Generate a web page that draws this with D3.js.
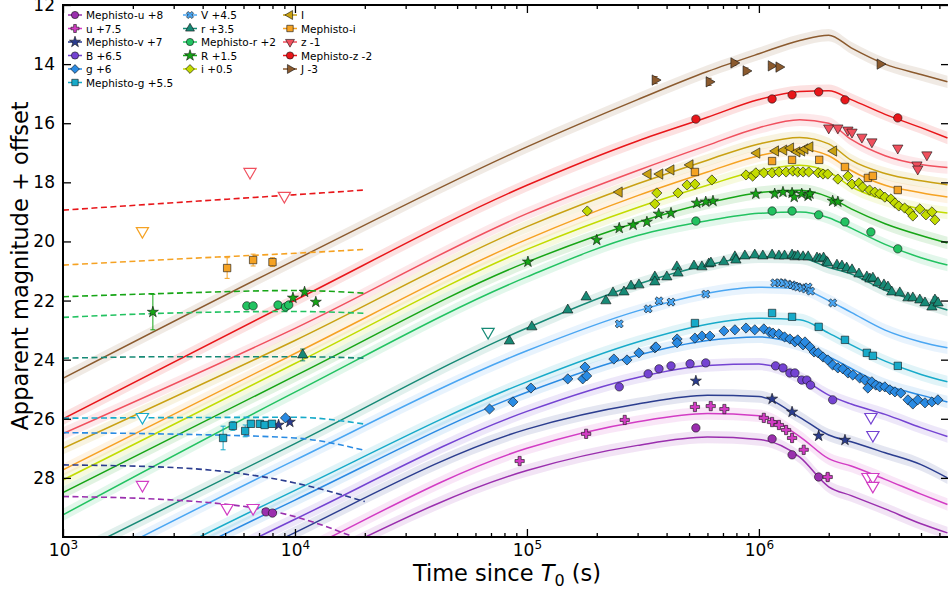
<!DOCTYPE html>
<html>
<head>
<meta charset="utf-8">
<script src="https://cdn.jsdelivr.net/npm/d3@7"></script>
<style>
body { margin: 0; background: #fff; }
svg { display: block; font-family: "DejaVu Sans", sans-serif; }
</style>
</head>
<body>
<svg id="chart" width="948" height="592"></svg>
<script>
// model curves, sampled at these times (s)
const modelTimes = [1e3, 1e4, 1e5, 3e5, 6e5, 1e6, 1.5e6, 2e6, 2.5e6, 3.5e6, 5e6, 6.5e6];

const modelMephistoU = [35.2, 31.15, 27.75, 26.9, 26.62, 26.7, 27.3, 28.3, 28.6, 29.05, 29.55, 29.86];
const model_u = [34.6, 30.6, 27.0, 26.1, 25.82, 25.9, 26.6, 27.35, 27.6, 28.05, 28.55, 28.9];
const modelMephistoV = [34.0, 29.85, 26.35, 25.5, 25.2, 25.25, 25.95, 26.55, 26.78, 27.15, 27.55, 28.0];
const model_B = [33.3, 29.4, 25.75, 24.6, 24.2, 24.15, 24.6, 25.2, 25.5, 25.85, 26.3, 26.6];
const model_g = [32.6, 28.75, 25.1, 23.85, 23.35, 23.23, 23.5, 23.9, 24.3, 24.85, 25.2, 25.43];
const modelMephistoG = [32.3, 28.42, 24.75, 23.4, 22.8, 22.6, 22.65, 23.1, 23.5, 24.05, 24.5, 24.75];
const model_V = [31.35, 27.4, 23.7, 22.35, 21.75, 21.55, 21.6, 22.0, 22.4, 23.0, 23.4, 23.6];
const model_r = [30.75, 26.84, 22.93, 21.45, 20.8, 20.52, 20.55, 20.88, 21.1, 21.65, 22.05, 22.32];
const modelMephistoR = [29.25, 25.1, 21.2, 19.8, 19.3, 19.05, 19.0, 19.2, 19.55, 20.1, 20.55, 20.8];
const model_R = [28.5, 24.55, 20.7, 19.35, 18.7, 18.35, 18.27, 18.5, 18.9, 19.4, 19.8, 20.05];
const model_i = [28.07, 24.13, 20.27, 18.85, 18.1, 17.6, 17.42, 17.65, 18.15, 18.6, 18.9, 19.04];
const model_I = [27.0, 23.35, 19.5, 18.05, 17.25, 16.7, 16.48, 16.7, 17.25, 17.7, 17.95, 18.08];
const modelMephistoI = [27.73, 23.79, 19.93, 18.45, 17.65, 17.1, 16.88, 17.1, 17.6, 18.1, 18.35, 18.5];
const model_z = [26.5, 22.94, 19.06, 17.6, 16.75, 16.15, 15.88, 16.0, 16.55, 17.1, 17.4, 17.5];
const modelMephistoZ = [26.0, 21.99, 18.1, 16.6, 15.8, 15.2, 14.93, 14.9, 15.2, 15.7, 16.15, 16.5];
const model_J = [24.63, 20.63, 16.8, 15.2, 14.25, 13.65, 13.2, 13.02, 13.45, 14.0, 14.35, 14.6];

// early (dashed) component
const earlyTimes = [1e3, 3e3, 1e4, 2e4];
const earlyMephistoU = [28.63, 28.75, 29.31, 30.15];
const earlyMephistoV = [27.56, 27.65, 28.17, 28.8];
const early_g = [26.47, 26.52, 26.65, 27.07];
const earlyMephistoG = [25.98, 25.96, 25.95, 26.18];
const early_r = [23.95, 23.9, 23.9, 23.95];
const earlyMephistoR = [22.57, 22.42, 22.37, 22.43];
const early_R = [21.87, 21.75, 21.66, 21.75];
const earlyMephistoI = [20.8, 20.6, 20.4, 20.27];
const earlyMephistoZ = [18.94, 18.69, 18.42, 18.26];

// observations [t, mag, err]
const obsMephistoU = [[7.5e3, 29.15], [8.0e3, 29.19], [5.35e5, 26.31], [1.14e6, 26.68], [1.39e6, 27.22], [1.81e6, 27.97]];
const obs_u = [[9.3e4, 27.43], [1.8e5, 26.51], [2.64e5, 26.04], [5.3e5, 25.6], [6.2e5, 25.57], [7.1e5, 25.67],
  [1.05e6, 25.97], [1.14e6, 26.11], [1.22e6, 26.21], [1.31e6, 26.38], [1.39e6, 26.65], [1.56e6, 27.05], [1.98e6, 27.97, 0.1]];
const lim_u = [[2.2e3, 28.24], [5.1e3, 29.02], [6.6e3, 29.02], [2.95e6, 27.97], [3.1e6, 27.97], [3.1e6, 28.27]];
const obsMephistoV = [[8.5e3, 26.21], [9.5e3, 26.11], [5.35e5, 24.72], [1.14e6, 25.33], [1.39e6, 25.77], [1.81e6, 26.58], [2.35e6, 26.72]];
const obs_B = [[2.5e5, 24.92], [3.33e5, 24.48], [3.71e5, 24.31], [4.18e5, 24.21], [5.05e5, 24.14], [5.9e5, 24.11],
  [1.18e6, 24.21], [1.27e6, 24.28], [1.36e6, 24.45], [1.43e6, 24.45], [1.53e6, 24.69], [1.61e6, 24.69], [1.67e6, 24.86], [2.08e6, 25.36]];
const lim_B = [[3.04e6, 25.94], [3.1e6, 26.55]];
const obs_g = [[9.1e3, 25.97], [6.9e4, 25.67], [8.7e4, 25.43], [1.04e5, 24.96], [1.5e5, 24.65], [1.74e5, 24.65], [1.81e5, 24.55],
  [1.78e5, 24.25], [2.37e5, 23.98], [2.7e5, 24.01], [3.04e5, 23.77], [3.56e5, 23.6], [3.6e5, 23.57], [4.44e5, 23.3],
  [4.44e5, 23.43], [5.3e5, 23.27], [5.68e5, 23.2], [6.15e5, 23.2], [7.07e5, 23.03], [7.88e5, 22.99], [8.8e5, 22.93],
  [9.6e5, 22.99], [1.05e6, 22.96], [1.11e6, 23.06], [1.15e6, 23.1], [1.22e6, 23.13], [1.29e6, 23.23], [1.36e6, 23.3],
  [1.43e6, 23.4], [1.47e6, 23.33], [1.55e6, 23.5], [1.58e6, 23.4], [1.66e6, 23.57], [1.73e6, 23.74], [1.8e6, 23.77],
  [1.89e6, 23.91], [1.98e6, 24.01], [2.08e6, 24.18], [2.19e6, 24.28], [2.3e6, 24.31], [2.42e6, 24.45], [2.54e6, 24.52],
  [2.72e6, 24.62], [2.86e6, 24.69], [2.95e6, 24.96], [3.07e6, 24.75], [3.19e6, 24.86], [3.32e6, 24.92], [3.49e6, 24.92],
  [3.67e6, 25.02], [3.86e6, 25.09], [4.09e6, 25.13], [4.39e6, 25.36], [4.61e6, 25.5], [4.84e6, 25.36], [5.2e6, 25.46],
  [5.57e6, 25.43], [5.91e6, 25.36]];
const obsMephistoG = [[4.9e3, 26.65, 0.4], [5.4e3, 26.24, 0.15], [6.1e3, 26.41, 0.2], [6.46e3, 26.17, 0.1], [7.06e3, 26.17, 0.1],
  [7.4e3, 26.21, 0.1], [7.96e3, 26.17, 0.1], [5.3e5, 22.76], [1.14e6, 22.42], [1.39e6, 22.55], [1.81e6, 22.89],
  [2.35e6, 23.33], [2.92e6, 23.77], [3.1e6, 23.87], [3.97e6, 24.21]];
const limMephistoG = [[2.2e3, 25.94]];
const obs_V = [[2.5e5, 22.79], [3.33e5, 22.28], [3.71e5, 22.01], [4.18e5, 22.05], [5.9e5, 21.78], [1.17e6, 21.4], [1.23e6, 21.4],
  [1.27e6, 21.4], [1.33e6, 21.44], [1.39e6, 21.47], [1.43e6, 21.51], [1.47e6, 21.54], [1.53e6, 21.57], [1.59e6, 21.61],
  [1.63e6, 21.54], [1.67e6, 21.68], [2.08e6, 22.08]];
const obs_r = [[1.08e4, 23.84, 0.2], [8.4e4, 23.37], [1.05e5, 22.89], [1.5e5, 22.32], [1.8e5, 21.88], [2.19e5, 22.01], [2.35e5, 21.74],
  [2.62e5, 21.71], [2.81e5, 21.51], [3.04e5, 21.47], [3.56e5, 21.2], [3.56e5, 21.37], [4.01e5, 21.2], [4.43e5, 20.86],
  [4.48e5, 21.07], [5.25e5, 20.83], [5.68e5, 20.86], [6.08e5, 20.76], [6.21e5, 20.73], [7.06e5, 20.69], [7.88e5, 20.52],
  [7.96e5, 20.63], [8.7e5, 20.49], [9.6e5, 20.46], [1.04e6, 20.49], [1.14e6, 20.46], [1.22e6, 20.49], [1.29e6, 20.49],
  [1.39e6, 20.46], [1.43e6, 20.52], [1.47e6, 20.49], [1.55e6, 20.52], [1.63e6, 20.52], [1.78e6, 20.56], [1.83e6, 20.59],
  [1.9e6, 20.56], [1.96e6, 20.69], [1.98e6, 20.73], [2.17e6, 20.8], [2.28e6, 20.83], [2.39e6, 20.9], [2.52e6, 20.96],
  [2.7e6, 21.1], [2.92e6, 21.2], [3.01e6, 21.27], [3.1e6, 21.24], [3.26e6, 21.4], [3.46e6, 21.47], [3.6e6, 21.54],
  [3.74e6, 21.71], [4.05e6, 21.74], [4.39e6, 21.91], [4.61e6, 21.91], [4.94e6, 21.98], [5.2e6, 22.08], [5.57e6, 22.22],
  [5.74e6, 21.98, 0.1], [5.92e6, 22.08]];
const lim_r = [[6.8e4, 23.06]];
const obsMephistoR = [[6.2e3, 22.18], [6.6e3, 22.18], [8.45e3, 22.15], [9.1e3, 22.22], [9.4e3, 22.15], [5.35e5, 19.31],
  [1.14e6, 18.97], [1.39e6, 18.97], [1.81e6, 19.1], [2.35e6, 19.34], [3.04e6, 19.68], [3.97e6, 20.25]];
const obs_R = [[2.44e3, 22.39, 0.6], [9.8e3, 21.91], [1.1e4, 21.71], [1.23e4, 22.05], [1.01e5, 20.69], [2.0e5, 19.95],
  [2.5e5, 19.55], [2.87e5, 19.44], [3.29e5, 19.34], [3.7e5, 19.07], [4.18e5, 19.04], [5.4e5, 18.7], [5.9e5, 18.66],
  [6.34e5, 18.63], [9.7e5, 18.39], [1.17e6, 18.39], [1.27e6, 18.33], [1.39e6, 18.36], [1.42e6, 18.5], [1.53e6, 18.39],
  [1.63e6, 18.46], [1.66e6, 18.39], [2.08e6, 18.63], [2.19e6, 18.66]];
const obs_i = [[1.82e5, 18.97], [3.63e5, 18.36], [3.56e5, 18.73], [4.48e5, 18.36], [4.9e5, 18.09], [5.3e5, 18.06], [6.27e5, 17.92],
  [8.8e5, 17.75], [9.4e5, 17.79], [9.7e5, 17.68], [1.05e6, 17.68], [1.14e6, 17.68], [1.22e6, 17.65], [1.31e6, 17.65],
  [1.4e6, 17.62], [1.47e6, 17.65], [1.55e6, 17.65], [1.64e6, 17.65], [1.8e6, 17.68], [1.89e6, 17.72], [1.98e6, 17.72],
  [2.19e6, 17.89], [2.42e6, 17.79], [2.52e6, 18.06], [2.7e6, 18.02], [2.8e6, 18.16], [3.0e6, 18.26], [3.16e6, 18.33],
  [3.32e6, 18.39], [3.49e6, 18.5], [3.71e6, 18.56], [3.86e6, 18.7], [4.01e6, 18.8], [4.25e6, 18.87], [4.48e6, 19.0],
  [4.61e6, 19.14], [4.94e6, 18.9], [5.25e6, 19.1], [5.57e6, 19.0], [5.74e6, 19.27]];
const obs_I = [[2.5e5, 18.33], [3.33e5, 17.72], [3.74e5, 17.72], [4.18e5, 17.58], [5.05e5, 17.41], [9.8e5, 17.01], [1.18e6, 16.94],
  [1.28e6, 16.91], [1.37e6, 16.84], [1.46e6, 16.97], [1.53e6, 16.94], [1.58e6, 16.87], [1.66e6, 16.8], [2.1e6, 16.94]];
const obsMephistoI = [[5.1e3, 20.9, 0.35], [6.6e3, 20.63, 0.2], [8.0e3, 20.7, 0.15], [5.3e5, 17.65], [1.14e6, 17.28], [1.39e6, 17.24],
  [1.82e6, 17.24], [2.35e6, 17.48], [2.95e6, 17.85], [3.1e6, 17.78], [3.97e6, 18.26]];
const limMephistoI = [[2.2e3, 19.65]];
const obs_z = [[2.0e6, 16.16], [2.19e6, 16.16], [2.42e6, 16.23], [2.52e6, 16.3], [2.78e6, 16.47], [3.07e6, 16.63], [3.97e6, 16.84],
  [4.8e6, 17.41], [4.84e6, 17.55], [5.3e6, 17.07]];
const lim_z = [[6.4e3, 17.65], [9.0e3, 18.46]];
const obsMephistoZ = [[5.35e5, 15.86], [1.14e6, 15.18], [1.39e6, 15.04], [1.81e6, 14.94], [2.35e6, 15.21], [3.97e6, 15.82]];
const obs_J = [[3.57e5, 14.54, 0.12], [6.1e5, 14.6, 0.12], [7.8e5, 13.96, 0.08], [8.8e5, 14.23, 0.1], [1.13e6, 14.06, 0.05],
  [1.22e6, 14.1, 0.05], [3.33e6, 14.0, 0.05]];

const yTicks = [12, 14, 16, 18, 20, 22, 24, 26, 28];
const xTicks = [1e3, 1e4, 1e5, 1e6];

const bands = [
  {label: "Mephisto-u +8", color: "#9a2fae", marker: "circle", model: modelMephistoU, early: earlyMephistoU, obs: obsMephistoU},
  {label: "u +7.5", color: "#d23cc4", marker: "plus", model: model_u, obs: obs_u, lim: lim_u},
  {label: "Mephisto-v +7", color: "#2b3d8f", marker: "star", model: modelMephistoV, early: earlyMephistoV, obs: obsMephistoV},
  {label: "B +6.5", color: "#7443d2", marker: "circle", model: model_B, obs: obs_B, lim: lim_B},
  {label: "g +6", color: "#2a8be3", marker: "diamond", model: model_g, early: early_g, obs: obs_g},
  {label: "Mephisto-g +5.5", color: "#17aac9", marker: "square", model: modelMephistoG, early: earlyMephistoG, obs: obsMephistoG, lim: limMephistoG},
  {label: "V +4.5", color: "#4aa6f2", marker: "x", model: model_V, obs: obs_V},
  {label: "r +3.5", color: "#178a76", marker: "triUp", model: model_r, early: early_r, obs: obs_r, lim: lim_r},
  {label: "Mephisto-r +2", color: "#22c261", marker: "circle", model: modelMephistoR, early: earlyMephistoR, obs: obsMephistoR},
  {label: "R +1.5", color: "#16a516", marker: "star", model: model_R, early: early_R, obs: obs_R},
  {label: "i +0.5", color: "#c3db00", marker: "diamond", model: model_i, obs: obs_i},
  {label: "I", color: "#c9a112", marker: "triLeft", model: model_I, obs: obs_I},
  {label: "Mephisto-i", color: "#f5a223", marker: "square", model: modelMephistoI, early: earlyMephistoI, obs: obsMephistoI, lim: limMephistoI},
  {label: "z -1", color: "#f0505e", marker: "triDown", model: model_z, obs: obs_z, lim: lim_z},
  {label: "Mephisto-z -2", color: "#e8161a", marker: "circle", model: modelMephistoZ, early: earlyMephistoZ, obs: obsMephistoZ},
  {label: "J -3", color: "#8b5a2e", marker: "triRight", model: model_J, obs: obs_J}
];

const symbols = {
  circle: {type: d3.symbolCircle, size: 55, rot: 0},
  plus: {type: d3.symbolCross, size: 48, rot: 0},
  star: {type: d3.symbolStar, size: 38, rot: 0},
  diamond: {type: d3.symbolSquare, size: 52, rot: 45},
  square: {type: d3.symbolSquare, size: 55, rot: 0},
  x: {type: d3.symbolCross, size: 42, rot: 45},
  triUp: {type: d3.symbolTriangle, size: 46, rot: 0},
  triDown: {type: d3.symbolTriangle, size: 46, rot: 180},
  triLeft: {type: d3.symbolTriangle, size: 46, rot: -90},
  triRight: {type: d3.symbolTriangle, size: 46, rot: 90}
};

const svg = d3.select("#chart");
const plotLeft = 63, plotTop = 5, plotRight = 949, plotBottom = 537;

const x = d3.scaleLog().domain([1e3, 6.6e6]).range([plotLeft, plotRight]);
const y = d3.scaleLinear().domain([12, 30]).range([plotTop, plotBottom]);

svg.append("defs").append("clipPath").attr("id", "plot")
  .append("rect").attr("x", plotLeft).attr("y", plotTop)
  .attr("width", plotRight - plotLeft).attr("height", plotBottom - plotTop);

const plot = svg.append("g").attr("clip-path", "url(#plot)");

const pairs = (times, mags) => times.map((t, i) => [t, mags[i]]);

const band = d3.area()
  .x(d => x(d[0]))
  .y0(d => y(d[1] - 0.21))
  .y1(d => y(d[1] + 0.21))
  .curve(d3.curveMonotoneX);
const line = d3.line()
  .x(d => x(d[0]))
  .y(d => y(d[1]))
  .curve(d3.curveMonotoneX);

bands.forEach(b => {
  plot.append("path")
    .attr("d", band(pairs(modelTimes, b.model)))
    .style("fill", b.color)
    .style("opacity", 0.13);
});
bands.forEach(b => {
  plot.append("path")
    .attr("d", line(pairs(modelTimes, b.model)))
    .style("fill", "none")
    .style("stroke", b.color)
    .style("stroke-width", 1.5);
});
bands.filter(b => b.early).forEach(b => {
  plot.append("path")
    .attr("d", line(pairs(earlyTimes, b.early)))
    .style("fill", "none")
    .style("stroke", b.color)
    .style("stroke-width", 1.6)
    .style("stroke-dasharray", "6,3.5");
});

const symbolPath = (name, scale) => d3.symbol().type(symbols[name].type).size(symbols[name].size * (scale || 1))();

bands.forEach(b => {
  const g = plot.append("g");
  const withErr = b.obs.filter(d => d[2]);
  g.selectAll("path.err")
    .data(withErr)
    .enter()
    .append("path")
    .attr("d", d => {
      const cx = x(d[0]), y0 = y(d[1] - d[2]), y1 = y(d[1] + d[2]);
      return `M${cx},${y0}V${y1}M${cx - 2.5},${y0}H${cx + 2.5}M${cx - 2.5},${y1}H${cx + 2.5}`;
    })
    .style("fill", "none")
    .style("stroke", b.color)
    .style("stroke-width", 1);

  g.selectAll("path.pt")
    .data(b.obs)
    .enter()
    .append("path")
    .attr("d", symbolPath(b.marker))
    .attr("transform", d => `translate(${x(d[0])},${y(d[1])}) rotate(${symbols[b.marker].rot})`)
    .style("fill", b.color)
    .style("stroke", "#111")
    .style("stroke-width", 0.6);

  if (b.lim) {
    g.selectAll("path.lim")
      .data(b.lim)
      .enter()
      .append("path")
      .attr("d", symbolPath("triDown", 1.4))
      .attr("transform", d => `translate(${x(d[0])},${y(d[1])}) rotate(180)`)
      .style("fill", "white")
      .style("stroke", b.color)
      .style("stroke-width", 1.2);
  }
});

// axes, ticks pointing inward on all four sides
const minorTicks = [];
[1e3, 1e4, 1e5, 1e6].forEach(dec => {
  for (let k = 2; k <= 9; k++) if (dec * k < 6.6e6) minorTicks.push(dec * k);
});

const styleAxis = (g) => {
  g.select(".domain").remove();
  g.selectAll(".tick line").style("stroke", "#000").style("stroke-width", 1.3);
  g.selectAll("text").attr("fill", "#000").attr("font-size", 17).attr("font-family", "DejaVu Sans");
};

svg.append("g").attr("transform", `translate(0,${plotBottom})`)
  .call(d3.axisBottom(x).tickValues(xTicks).tickSize(-8).tickSizeOuter(0).tickPadding(7))
  .call(styleAxis)
  .selectAll(".tick text").each(function (d) {
    const t = d3.select(this).text("");
    t.append("tspan").text("10");
    t.append("tspan").attr("dy", "-0.55em").attr("font-size", 12).text(Math.round(Math.log10(d)));
  });
svg.append("g").attr("transform", `translate(0,${plotBottom})`)
  .call(d3.axisBottom(x).tickValues(minorTicks).tickSize(-4).tickFormat(""))
  .call(styleAxis);
svg.append("g").attr("transform", `translate(0,${plotTop})`)
  .call(d3.axisTop(x).tickValues(xTicks).tickSize(-8).tickFormat(""))
  .call(styleAxis);
svg.append("g").attr("transform", `translate(0,${plotTop})`)
  .call(d3.axisTop(x).tickValues(minorTicks).tickSize(-4).tickFormat(""))
  .call(styleAxis);
svg.append("g").attr("transform", `translate(${plotLeft},0)`)
  .call(d3.axisLeft(y).tickValues(yTicks).tickSize(-8).tickPadding(8))
  .call(styleAxis);
svg.append("g").attr("transform", `translate(${plotRight},0)`)
  .call(d3.axisRight(y).tickValues(yTicks).tickSize(-8).tickFormat(""))
  .call(styleAxis);

svg.append("rect")
  .attr("x", plotLeft).attr("y", plotTop)
  .attr("width", plotRight - plotLeft).attr("height", plotBottom - plotTop)
  .style("fill", "none").style("stroke", "#000").style("stroke-width", 2);

// axis titles
svg.append("text")
  .attr("transform", "translate(28,266) rotate(-90)")
  .attr("text-anchor", "middle")
  .attr("font-size", 22.5)
  .text("Apparent magnitude + offset");

const xTitle = svg.append("text")
  .attr("x", 507).attr("y", 581)
  .attr("text-anchor", "middle")
  .attr("font-size", 22.5);
xTitle.append("tspan").text("Time since ");
xTitle.append("tspan").attr("font-style", "italic").text("T");
xTitle.append("tspan").attr("font-size", 16).attr("dy", 5).text("0");
xTitle.append("tspan").attr("dy", -5).text(" (s)");

// legend, three columns
const legendCols = [75, 190, 290];
const legendRows = [15, 28.5, 42, 55.5, 69, 82.5];
const legend = svg.append("g");
bands.forEach((b, i) => {
  const col = i < 6 ? 0 : i < 11 ? 1 : 2;
  const row = i < 6 ? i : i < 11 ? i - 6 : i - 11;
  const item = legend.append("g").attr("transform", `translate(${legendCols[col]},${legendRows[row]})`);
  item.append("line")
    .attr("x1", -7).attr("x2", 7)
    .style("stroke", b.color)
    .style("stroke-width", 1.5);
  item.append("path")
    .attr("d", symbolPath(b.marker, b.marker === "star" ? 1 : 0.75))
    .attr("transform", `rotate(${symbols[b.marker].rot})`)
    .style("fill", b.color)
    .style("stroke", "#111")
    .style("stroke-width", 0.6);
  item.append("text")
    .attr("x", 11).attr("y", 4)
    .attr("font-size", 10.5)
    .text(b.label);
});
</script>
</body>
</html>
